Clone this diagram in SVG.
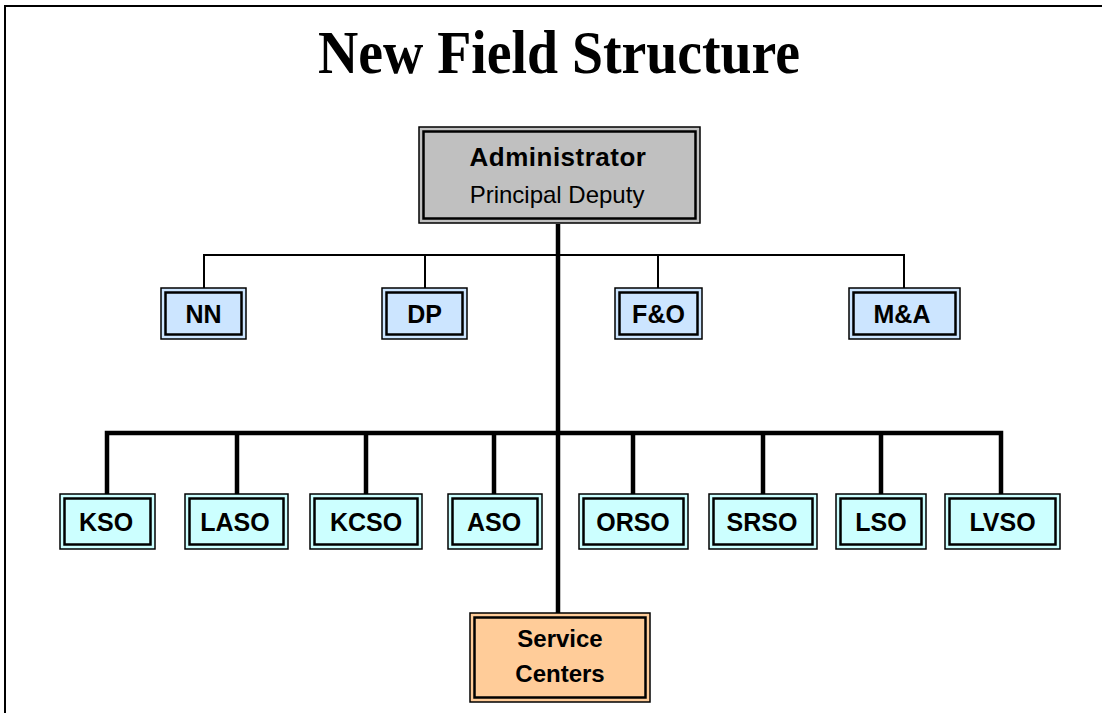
<svg xmlns="http://www.w3.org/2000/svg" width="1102" height="713" viewBox="0 0 1102 713">
  <style>
    .frame { fill: none; stroke: #000; stroke-width: 2; }
    .outer { stroke: #000; stroke-width: 1.5; }
    .inner { fill: none; stroke: #000; stroke-width: 2.5; }
    .admin { fill: #c0c0c0; }
    .staff { fill: #cce5ff; }
    .office { fill: #ccffff; }
    .center { fill: #ffcc99; }
    .lbl { font-family: "Liberation Sans", Arial, sans-serif; font-weight: bold; font-size: 25px; text-anchor: middle; fill: #000; }
    .head { font-family: "Liberation Sans", Arial, sans-serif; font-weight: bold; font-size: 26px; letter-spacing: 0.5px; text-anchor: middle; fill: #000; }
    .sub { font-family: "Liberation Sans", Arial, sans-serif; font-size: 24px; text-anchor: middle; fill: #000; }
    .svc { font-family: "Liberation Sans", Arial, sans-serif; font-weight: bold; font-size: 24px; text-anchor: middle; fill: #000; }
    .title { font-family: "Liberation Serif", "Times New Roman", serif; font-weight: bold; font-size: 62px; fill: #000; }
    .thin { fill: none; stroke: #000; stroke-width: 2; }
    .thick { fill: none; stroke: #000; stroke-width: 4.5; }
  </style>

  <rect width="1102" height="713" fill="#fff"/>
  <path class="frame" d="M5 713 V6 H1102"/>

  <text class="title" x="318" y="73" textLength="482" lengthAdjust="spacingAndGlyphs">New Field Structure</text>

  <g id="connectors">
    <path class="thin" d="M204 288 V255 H904 V288 M425 255 V288 M658 255 V288"/>
    <path class="thick" d="M558 224 V613"/>
    <path class="thick" d="M107 494 V433 H1001 V494 M237 433 V494 M366 433 V494 M494 433 V494 M633 433 V494 M763 433 V494 M881 433 V494"/>
  </g>

  <g id="administrator">
    <rect class="outer admin" x="419" y="127" width="281" height="96"/>
    <rect class="inner" x="423.5" y="131.5" width="272" height="87"/>
    <text class="head" x="558" y="166">Administrator</text>
    <text class="sub" x="557" y="203">Principal Deputy</text>
  </g>

  <g id="nn">
    <rect class="outer staff" x="161" y="288" width="85" height="51"/>
    <rect class="inner" x="165.5" y="292.5" width="76" height="42"/>
    <text class="lbl" x="203.5" y="323">NN</text>
  </g>
  <g id="dp">
    <rect class="outer staff" x="382" y="288" width="85" height="51"/>
    <rect class="inner" x="386.5" y="292.5" width="76" height="42"/>
    <text class="lbl" x="424.5" y="323">DP</text>
  </g>
  <g id="fo">
    <rect class="outer staff" x="615" y="288" width="87" height="51"/>
    <rect class="inner" x="619.5" y="292.5" width="78" height="42"/>
    <text class="lbl" x="658.5" y="323">F&amp;O</text>
  </g>
  <g id="ma">
    <rect class="outer staff" x="849" y="288" width="111" height="51"/>
    <rect class="inner" x="853.5" y="292.5" width="102" height="42"/>
    <text class="lbl" x="902" y="323">M&amp;A</text>
  </g>

  <g id="kso">
    <rect class="outer office" x="60" y="494" width="95" height="55"/>
    <rect class="inner" x="64.5" y="498.5" width="86" height="46"/>
    <text class="lbl" x="106" y="531">KSO</text>
  </g>
  <g id="laso">
    <rect class="outer office" x="185" y="494" width="103" height="55"/>
    <rect class="inner" x="189.5" y="498.5" width="94" height="46"/>
    <text class="lbl" x="235" y="531">LASO</text>
  </g>
  <g id="kcso">
    <rect class="outer office" x="310" y="494" width="112" height="55"/>
    <rect class="inner" x="314.5" y="498.5" width="103" height="46"/>
    <text class="lbl" x="366" y="531">KCSO</text>
  </g>
  <g id="aso">
    <rect class="outer office" x="448" y="494" width="94" height="55"/>
    <rect class="inner" x="452.5" y="498.5" width="85" height="46"/>
    <text class="lbl" x="494" y="531">ASO</text>
  </g>
  <g id="orso">
    <rect class="outer office" x="579" y="494" width="109" height="55"/>
    <rect class="inner" x="583.5" y="498.5" width="100" height="46"/>
    <text class="lbl" x="633" y="531">ORSO</text>
  </g>
  <g id="srso">
    <rect class="outer office" x="709" y="494" width="108" height="55"/>
    <rect class="inner" x="713.5" y="498.5" width="99" height="46"/>
    <text class="lbl" x="762" y="531">SRSO</text>
  </g>
  <g id="lso">
    <rect class="outer office" x="836" y="494" width="90" height="55"/>
    <rect class="inner" x="840.5" y="498.5" width="81" height="46"/>
    <text class="lbl" x="881" y="531">LSO</text>
  </g>
  <g id="lvso">
    <rect class="outer office" x="945" y="494" width="115" height="55"/>
    <rect class="inner" x="949.5" y="498.5" width="106" height="46"/>
    <text class="lbl" x="1002.5" y="531">LVSO</text>
  </g>

  <g id="service-centers">
    <rect class="outer center" x="470" y="613" width="180" height="89"/>
    <rect class="inner" x="474.5" y="617.5" width="171" height="80"/>
    <text class="svc" x="560" y="647">Service</text>
    <text class="svc" x="560" y="682">Centers</text>
  </g>
</svg>
